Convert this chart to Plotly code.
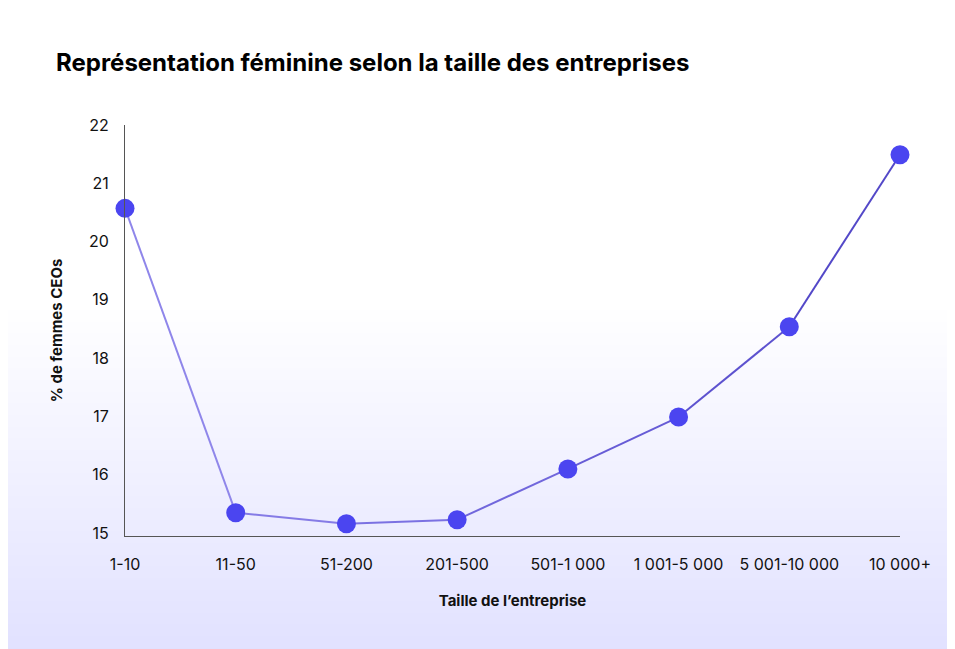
import plotly.graph_objects as go

categories = ["1-10", "11-50", "51-200", "201-500", "501-1 000", "1 001-5 000", "5 001-10 000", "10 000+"]
values = [20.57, 15.35, 15.16, 15.23, 16.10, 16.99, 18.54, 21.49]
seg_colors = ["#8f86ea", "#857be6", "#7b71e2", "#7167dc", "#675cd6", "#5d52cf", "#5348c8"]

fig = go.Figure()
x = list(range(len(categories)))
for i in range(len(x) - 1):
    fig.add_trace(go.Scatter(x=x[i:i+2], y=values[i:i+2], mode="lines",
                             line=dict(color=seg_colors[i], width=2), hoverinfo="skip",
                             showlegend=False, cliponaxis=False))
fig.add_trace(go.Scatter(x=x, y=values, mode="markers", cliponaxis=False, showlegend=False,
                         marker=dict(color="#4b45f0", size=19)))

# background gradient
n = 30
for k in range(n):
    top = 0.55 - 0.85 * k / n
    fig.add_shape(type="rect", xref="paper", yref="paper", x0=-0.16, x1=1.09,
                  y0=-0.31, y1=top, fillcolor="rgba(200,195,245,0.013)", line_width=0, layer="below")

fig.update_layout(
    width=955, height=649,
    margin=dict(l=117, r=63, t=117, b=121),
    paper_bgcolor="white", plot_bgcolor="rgba(0,0,0,0)",
    font=dict(family="Inter", color="#111111", size=16),
    title=dict(text="<b>Représentation féminine selon la taille des entreprises</b>",
               x=48/955, xanchor="left", y=1-55/649, yanchor="middle",
               font=dict(size=24, color="#000000")),
    xaxis=dict(range=[0, 7], tickvals=x, ticktext=categories, showgrid=False, automargin=False,
               showline=True, linecolor="#555555", linewidth=1, ticks="outside", ticklen=14,
               tickcolor="rgba(0,0,0,0)", zeroline=False,
               title=dict(text="<b>Taille de l’entreprise</b>", font=dict(size=15), standoff=22)),
    yaxis=dict(range=[14.95, 22], dtick=1, showgrid=False, showline=True, linecolor="#555555",
               linewidth=1, ticks="", zeroline=False, ticklabelstandoff=12, automargin=False,
               title=dict(text="<b>% de femmes CEOs</b>", font=dict(size=15), standoff=22)),
)
fig.write_html("out.html")
